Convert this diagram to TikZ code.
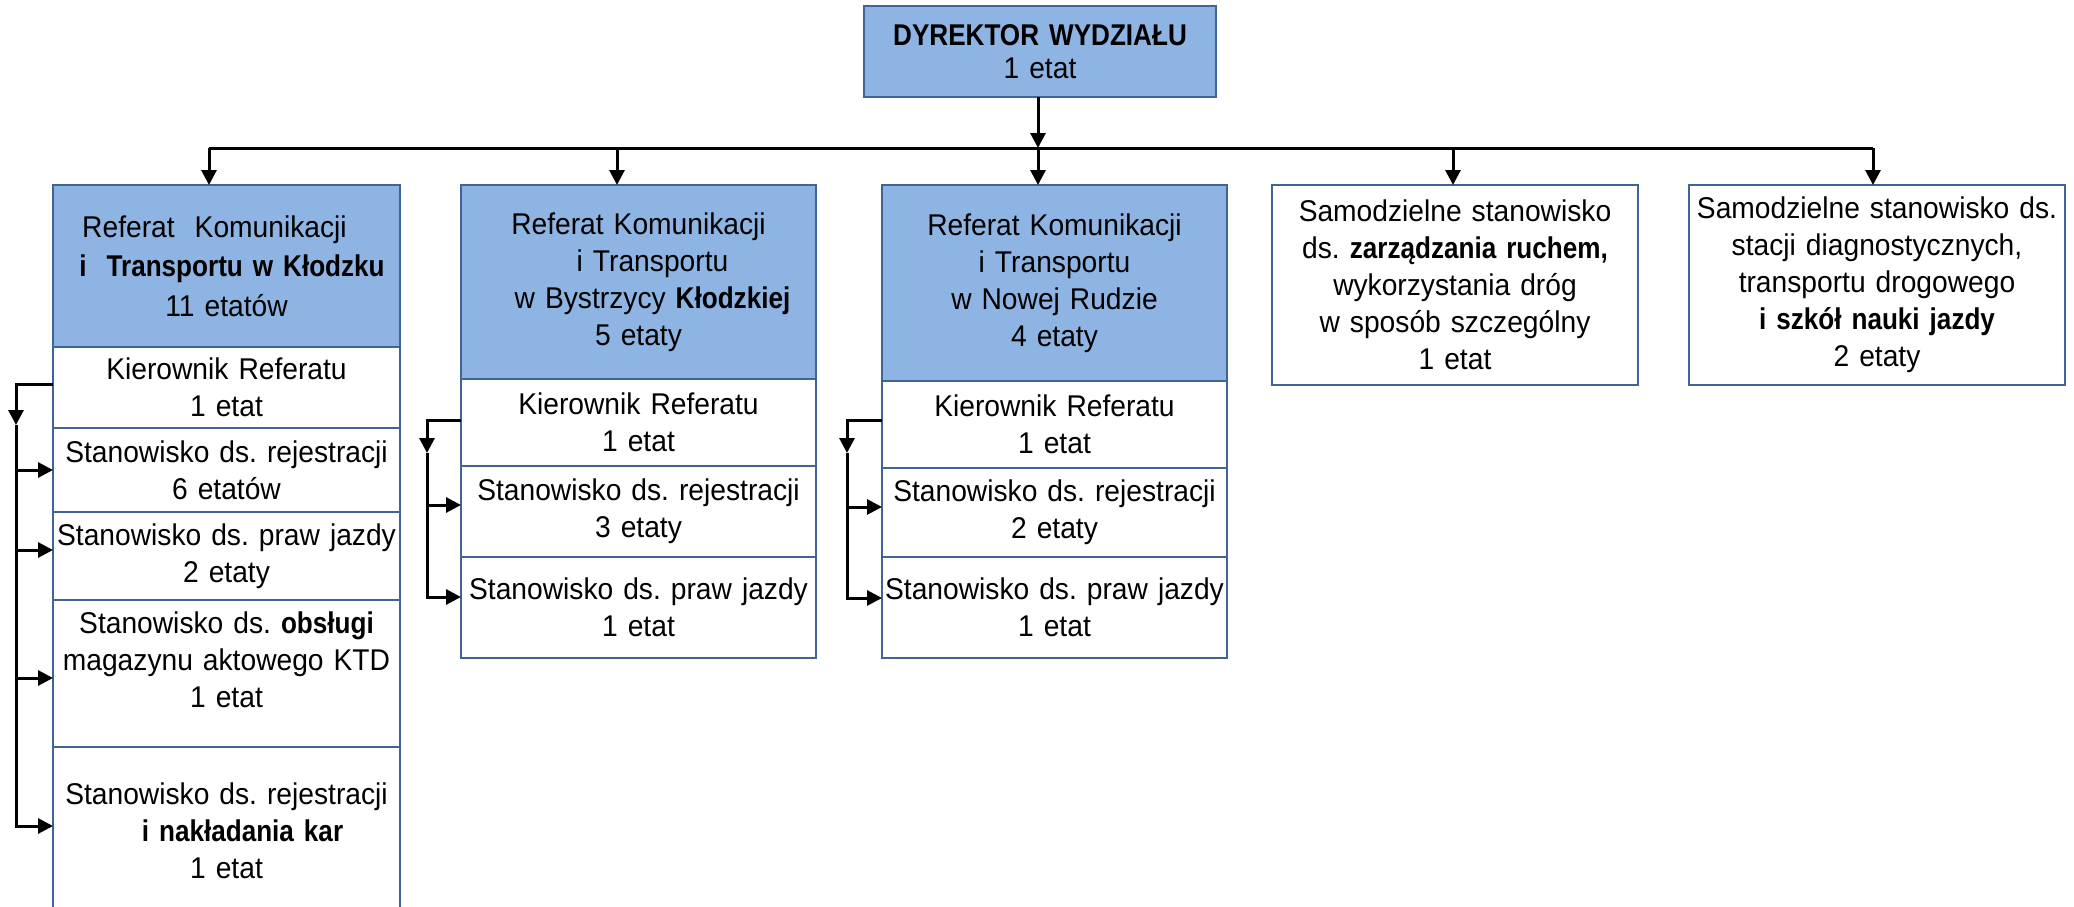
\documentclass[tikz,border=0pt]{standalone}
\usepackage{fontspec}
\setmainfont{Liberation Sans}[UprightFeatures={FakeStretch=0.94},BoldFeatures={FakeStretch=0.87}]
\usetikzlibrary{arrows.meta}
\definecolor{hdrfill}{RGB}{141,180,226}
\definecolor{bord}{RGB}{65,100,150}
\begin{document}
\frenchspacing
\begin{tikzpicture}[x=1pt,y=-1pt,
  box/.style={draw=bord, line width=2.5pt, outer sep=0pt, inner sep=0pt,
    anchor=north west, align=center, font=\fontsize{30}{37}\selectfont},
  hdr/.style={box, fill=hdrfill},
  cellw/.style={box, fill=white},
  conn/.style={line width=3pt, black},
  arr/.style={conn, -{Triangle[length=15pt,width=15pt]}}
]
\clip (0,0) rectangle (2074,907);
\fill[white] (0,0) rectangle (2074,907);

% Director
\node[hdr, minimum width=352pt, minimum height=91pt, text width=350pt,
  font=\fontsize{30}{33}\selectfont] (dir) at (864,6)
  {\textbf{DYREKTOR WYDZIAŁU}\\1 etat};

% Column 1
\node[hdr, minimum width=347pt, minimum height=162pt, text width=347pt,
  font=\fontsize{30}{39.5}\selectfont] (b1h) at (53,185)
  {Referat~~Komunikacji\kern24pt\\\hspace*{11pt}\textbf{i~~Transportu w Kłodzku}\\11 etatów};
\node[cellw, minimum width=347pt, minimum height=81pt, text width=347pt] (b1r1) at (53,347)
  {Kierownik Referatu\\1 etat};
\node[cellw, minimum width=347pt, minimum height=84pt, text width=347pt] (b1r2) at (53,428)
  {Stanowisko ds. rejestracji\\6 etatów};
\node[cellw, minimum width=347pt, minimum height=88pt, text width=347pt] (b1r3) at (53,512)
  {Stanowisko ds. praw jazdy\\2 etaty};
\node[cellw, minimum width=347pt, minimum height=147pt, text width=347pt] (b1r4) at (53,600)
  {Stanowisko ds. \textbf{obsługi}\\magazynu aktowego KTD\\1 etat\\[-10pt]\mbox{}};
\node[cellw, minimum width=347pt, minimum height=168pt, text width=347pt] (b1r5) at (53,747)
  {Stanowisko ds. rejestracji\\\hspace*{32pt}\textbf{i nakładania kar}\\1 etat};

% Column 2
\node[hdr, minimum width=355pt, minimum height=194pt, text width=355pt] (b2h) at (461,185)
  {Referat Komunikacji\\\hspace*{28pt}i Transportu\\\hspace*{28pt}w Bystrzycy \textbf{Kłodzkiej}\\5 etaty};
\node[cellw, minimum width=355pt, minimum height=87pt, text width=355pt] (b2r1) at (461,379)
  {Kierownik Referatu\\1 etat};
\node[cellw, minimum width=355pt, minimum height=91pt, text width=355pt] (b2r2) at (461,466)
  {Stanowisko ds. rejestracji\\3 etaty};
\node[cellw, minimum width=355pt, minimum height=101pt, text width=355pt] (b2r3) at (461,557)
  {Stanowisko ds. praw jazdy\\1 etat};

% Column 3
\node[hdr, minimum width=345pt, minimum height=196pt, text width=345pt] (b3h) at (882,185)
  {Referat Komunikacji\\i Transportu\\w Nowej Rudzie\\4 etaty};
\node[cellw, minimum width=345pt, minimum height=87pt, text width=345pt] (b3r1) at (882,381)
  {Kierownik Referatu\\1 etat};
\node[cellw, minimum width=345pt, minimum height=89pt, text width=345pt] (b3r2) at (882,468)
  {Stanowisko ds. rejestracji\\2 etaty};
\node[cellw, minimum width=345pt, minimum height=101pt, text width=345pt] (b3r3) at (882,557)
  {Stanowisko ds. praw jazdy\\1 etat};

% Column 4 and 5
\node[cellw, minimum width=366pt, minimum height=200pt, text width=366pt] (b4) at (1272,185)
  {Samodzielne stanowisko\\ds. \textbf{zarządzania ruchem,}\\wykorzystania dróg\\w sposób szczególny\\1 etat};
\node[cellw, minimum width=376pt, minimum height=200pt, text width=376pt] (b5) at (1689,185)
  {Samodzielne stanowisko ds.\\stacji diagnostycznych,\\transportu drogowego\\\textbf{i szkół nauki jazdy}\\2 etaty};

% Bus
\coordinate (t1) at (209,148);
\coordinate (t2) at (617,148);
\coordinate (t3) at (1038,148);
\coordinate (t4) at (1453,148);
\coordinate (t5) at (1873,148);
\draw[conn] (t1) -- (t5);
\draw[arr] (t3 |- dir.south) -- (t3);
\draw[arr] (t1) -- (t1 |- b1h.north);
\draw[arr] (t2) -- (t2 |- b2h.north);
\draw[arr] (t3) -- (t3 |- b3h.north);
\draw[arr] (t4) -- (t4 |- b4.north);
\draw[arr] (t5) -- (t5 |- b5.north);

% Column 1 connectors
\coordinate (k1) at (16,425);
\coordinate (c11) at ([yshift=3pt]b1r1.west);
\coordinate (a13) at ([yshift=6pt]b1r3.west);
\coordinate (a14) at ([yshift=-4.5pt]b1r4.west);
\coordinate (a15) at ([yshift=5pt]b1r5.west);
\draw[arr] (c11) -| (k1);
\draw[arr] (k1) |- (a15);
\draw[arr] (k1 |- b1r2.west) -- (b1r2.west);
\draw[arr] (k1 |- a13) -- (a13);
\draw[arr] (k1 |- a14) -- (a14);

% Column 2 connectors
\coordinate (k2) at (427,453);
\coordinate (c21) at ([yshift=2.5pt]b2r1.west);
\coordinate (a22) at ([yshift=6.5pt]b2r2.west);
\coordinate (a23) at ([yshift=10.5pt]b2r3.west);
\draw[arr] (c21) -| (k2);
\draw[arr] (k2) |- (a23);
\draw[arr] (k2 |- a22) -- (a22);

% Column 3 connectors
\coordinate (k3) at (847,453);
\coordinate (c31) at ([yshift=4.5pt]b3r1.west);
\coordinate (a32) at ([yshift=5.5pt]b3r2.west);
\coordinate (a33) at ([yshift=9.5pt]b3r3.west);
\draw[arr] (c31) -| (k3);
\draw[arr] (k3) |- (a33);
\draw[arr] (k3 |- a32) -- (a32);
\end{tikzpicture}
\end{document}
